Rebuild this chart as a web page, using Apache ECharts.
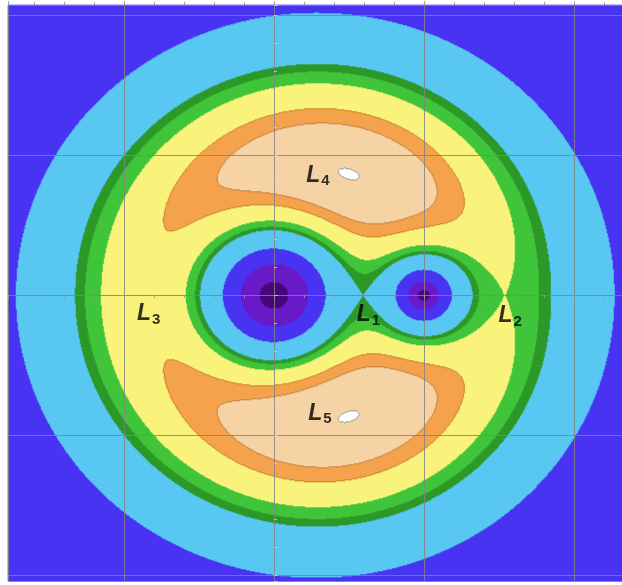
<!DOCTYPE html>
<html>
<head>
<meta charset="utf-8">
<script src="https://cdn.jsdelivr.net/npm/echarts@6/dist/echarts.min.js"></script>
<style>
  html, body { margin: 0; padding: 0; background: #ffffff; }
  #chart { width: 622px; height: 585px; }
</style>
</head>
<body>
<div id="chart"></div>
<script>
// Restricted three-body problem in the rotating frame:
// primary body at x = 0, secondary at x = 1, mass ratio of the secondary.
const massRatio = 0.28;
const primaryX = 0;
const secondaryX = 1;

// Plotted window (data units)
const xExtent = [-1.7733, 2.32];
const yExtent = [-2.0429, 2.0714];
// Sampling of the potential field (cells per axis)
const cellsX = 614;
const cellsY = 576;

// Effective-potential levels separating the filled bands, lowest first
const bandLevels = [1.4005, 1.525, 1.605, 1.78, 1.88, 1.951, 2.52];
const bandColors = ['#ffffff', '#f6d3a4', '#f4a24e', '#f9f27e', '#40c43c', '#2f982b', '#5bc7f1', '#4b35f2'];
// Gravitational-term levels for the cores around the two bodies
const coreLevels = [3.5, 7.8];
const coreColors = ['#6b1cc8', '#4a0a7c'];
// Contour lines: white oval rim, peach/orange, orange/yellow
const lineColors = ['#9a9a9a', '#c08048', '#c8802e'];

// Lagrange points and their labels
const lagrangeNames = ['1', '2', '3', '4', '5'];
const lagrangeX = [0.596, 1.541, -0.835, 0.5, 0.5];
const lagrangeY = [0, 0, 0, 0.866, -0.866];

function potential(x, y) {
  const mu = massRatio;
  const r1 = Math.hypot(x - primaryX, y);
  const r2 = Math.hypot(x - secondaryX, y);
  const xb = x - mu;                      // barycentric abscissa
  const grav = (1 - mu) / r1 + mu / r2;
  return { omega: (xb * xb + y * y) / 2 + grav, grav: grav };
}

function classify(x, y) {
  const p = potential(x, y);
  if (p.grav >= coreLevels[1]) return 9;
  if (p.grav >= coreLevels[0]) return 8;
  let k = 0;
  while (k < bandLevels.length && p.omega >= bandLevels[k]) k++;
  return k;
}

const dx = (xExtent[1] - xExtent[0]) / cellsX;
const dy = (yExtent[1] - yExtent[0]) / cellsY;
const xCats = [], yCats = [];
for (let i = 0; i < cellsX; i++) xCats.push((xExtent[0] + (i + 0.5) * dx).toFixed(4));
for (let j = 0; j < cellsY; j++) yCats.push((yExtent[0] + (j + 0.5) * dy).toFixed(4));

const cls = [];
for (let j = 0; j < cellsY; j++) {
  const row = [];
  for (let i = 0; i < cellsX; i++) row.push(classify(+xCats[i], +yCats[j]));
  cls.push(row);
}

// Mark contour lines where neighbouring bands meet
function lineClass(c, i, j) {
  const nb = [];
  if (i > 0) nb.push(cls[j][i - 1]);
  if (i < cellsX - 1) nb.push(cls[j][i + 1]);
  if (j > 0) nb.push(cls[j - 1][i]);
  if (j < cellsY - 1) nb.push(cls[j + 1][i]);
  if (c === 1 && nb.includes(0)) return 10;
  if (c === 1 && nb.includes(2)) return 11;
  if (c === 2 && nb.includes(3)) return 12;
  return c;
}

const cells = [];
for (let j = 0; j < cellsY; j++) {
  for (let i = 0; i < cellsX; i++) {
    cells.push([i, j, lineClass(cls[j][i], i, j)]);
  }
}

const allColors = bandColors.concat(coreColors, lineColors);
const pieces = allColors.map((c, k) => ({ value: k, color: c }));

const lagrangeData = lagrangeNames.map((n, k) => ({ value: [lagrangeX[k], lagrangeY[k]], name: n }));
const labelOffsets = [[5, 20], [5, 21], [0, 19], [-31, 2], [-29, -3]];
lagrangeData.forEach((d, k) => { d.label = { offset: labelOffsets[k] }; });

const gridBox = { left: 8, top: 5, width: 614, height: 576 };
const gridLineColor = 'rgba(130,130,130,0.85)';
const tickColor = 'rgba(150,150,150,0.9)';

const chart = echarts.init(document.getElementById('chart'), null, { renderer: 'canvas' });
chart.setOption({
  animation: false,
  backgroundColor: '#ffffff',
  grid: [Object.assign({}, gridBox), Object.assign({}, gridBox)],
  xAxis: [
    { gridIndex: 0, type: 'category', data: xCats, show: false },
    {
      gridIndex: 1, type: 'value', min: xExtent[0], max: xExtent[1], z: 10, position: 'bottom',
      axisLine: { show: false },
      axisLabel: { show: false },
      axisTick: { show: true, length: 4, lineStyle: { color: tickColor } },
      minorTick: { show: true, splitNumber: 5, length: 3, lineStyle: { color: tickColor } },
      splitLine: { show: true, lineStyle: { color: gridLineColor, width: 1 } }
    },
    {
      gridIndex: 1, type: 'value', min: xExtent[0], max: xExtent[1], z: 10, position: 'top',
      axisLine: { show: false },
      axisLabel: { show: false },
      axisTick: { show: true, length: 4, lineStyle: { color: tickColor } },
      minorTick: { show: true, splitNumber: 5, length: 3, lineStyle: { color: tickColor } },
      splitLine: { show: false }
    }
  ],
  yAxis: [
    { gridIndex: 0, type: 'category', data: yCats, show: false },
    {
      gridIndex: 1, type: 'value', min: yExtent[0], max: yExtent[1], z: 10,
      axisLine: { show: false },
      axisLabel: { show: false },
      axisTick: { show: true, inside: true, length: 4, lineStyle: { color: 'rgba(200,200,235,0.8)' } },
      minorTick: { show: true, splitNumber: 5, length: 3, lineStyle: { color: 'rgba(200,200,235,0.8)' } },
      splitLine: { show: true, lineStyle: { color: gridLineColor, width: 1 } }
    }
  ],
  visualMap: {
    type: 'piecewise', show: false, seriesIndex: 0, dimension: 2, pieces: pieces
  },
  series: [
    {
      type: 'heatmap', xAxisIndex: 0, yAxisIndex: 0, data: cells,
      progressive: 0, silent: true, emphasis: { disabled: true }
    },
    {
      type: 'scatter', xAxisIndex: 1, yAxisIndex: 1, data: lagrangeData,
      symbolSize: 0, silent: true, z: 20,
      label: {
        show: true, position: 'inside',
        formatter: p => '{l|L}{s|' + p.name + '}',
        rich: {
          l: { fontFamily: 'Liberation Sans, Arial, sans-serif', fontStyle: 'italic', fontWeight: 'bold', fontSize: 23, color: '#000000' },
          s: { fontFamily: 'Liberation Sans, Arial, sans-serif', fontWeight: 'bold', fontSize: 15, color: '#000000', padding: [11, 0, 0, 1] }
        }
      }
    }
  ]
});
</script>
</body>
</html>
